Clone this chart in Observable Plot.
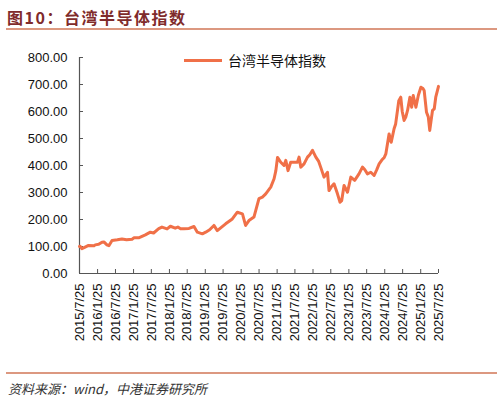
<!DOCTYPE html>
<html><head><meta charset="utf-8">
<script src="https://cdn.jsdelivr.net/npm/d3@7"></script>
<script src="https://cdn.jsdelivr.net/npm/@observablehq/plot@0.6"></script>
<style>
body{margin:0;background:#fff;}
#wrap{position:relative;width:503px;height:403px;overflow:hidden;font-family:"Liberation Sans",Arial,sans-serif;}
#title{position:absolute;left:7px;top:5px;font-family:"Noto Sans CJK SC","Liberation Sans",sans-serif;font-weight:bold;font-size:16px;letter-spacing:1.5px;color:#7f2b2b;white-space:nowrap;}
.rule{position:absolute;left:6px;width:491px;height:2px;background:#dc9880;}
#chart{position:absolute;left:0;top:34px;}
#legend{position:absolute;left:184px;top:50px;display:flex;align-items:center;font-family:"Noto Sans CJK SC",sans-serif;font-size:14px;color:#111;white-space:nowrap;}
#legend span.sw{display:inline-block;width:38px;height:3px;background:#F07048;margin-right:6px;}
#source{position:absolute;left:8px;top:379px;font-family:"Noto Sans CJK SC",sans-serif;font-style:italic;font-size:13px;color:#333;white-space:nowrap;}
</style></head>
<body>
<div id="wrap">
  <div id="title">图10：台湾半导体指数</div>
  <div class="rule" style="top:28px"></div>
  <div id="chart"></div>
  <div id="legend"><span class="sw"></span>台湾半导体指数</div>
  <div class="rule" style="top:372px"></div>
  <div id="source">资料来源：wind，中港证券研究所</div>
</div>
<script>
const seriesName = "台湾半导体指数";
const dates = [
"2015-07-25","2015-08-01","2015-08-18","2015-09-15","2015-10-25","2015-12-20","2016-01-01","2016-02-05","2016-03-10","2016-03-29",
"2016-04-29","2016-05-19","2016-06-20","2016-08-13","2016-09-29","2016-11-15","2017-01-10","2017-01-30","2017-03-18","2017-05-25",
"2017-07-15","2017-08-17","2017-10-08","2017-11-10","2018-01-01","2018-02-04","2018-03-25","2018-04-21","2018-05-18","2018-06-21",
"2018-08-12","2018-10-02","2018-11-05","2018-12-26","2019-01-29","2019-03-10","2019-04-23","2019-05-27","2019-07-10","2019-08-20",
"2019-10-27","2019-12-17","2020-02-07","2020-03-10","2020-04-13","2020-06-03","2020-07-24","2020-08-28","2020-10-01","2020-11-21",
"2020-12-25","2021-01-12","2021-01-29","2021-03-03","2021-04-05","2021-04-23","2021-05-16","2021-06-12","2021-07-16","2021-08-20",
"2021-09-05","2021-09-23","2021-10-26","2021-11-30","2021-12-23","2022-01-20","2022-02-23","2022-03-24","2022-04-13","2022-05-17",
"2022-06-21","2022-07-07","2022-07-29","2022-08-27","2022-10-01","2022-10-27","2022-11-13","2022-12-07","2023-01-11","2023-02-14",
"2023-03-25","2023-05-08","2023-06-12","2023-07-05","2023-08-02","2023-09-05","2023-10-09","2023-11-05","2023-11-29","2023-12-26",
"2024-01-20","2024-02-05","2024-03-09","2024-03-31","2024-04-29","2024-05-15","2024-06-16","2024-07-06","2024-07-21","2024-08-09",
"2024-08-26","2024-09-13","2024-10-07","2024-10-25","2024-11-10","2024-12-07","2025-01-01","2025-01-27","2025-02-17","2025-03-01",
"2025-03-25","2025-04-12","2025-04-27","2025-05-12","2025-05-25","2025-06-12","2025-06-27","2025-07-25"
];
const values = [
100,101,92,97,104,103,106,108,116,117,
106,103,122,125,128,125,127,132,132,143,
153,150,166,172,165,175,168,172,166,166,
167,174,153,147,153,162,178,159,172,184,
202,227,221,178,196,209,277,283,295,320,
351,381,430,412,400,419,381,412,412,412,
431,394,406,431,440,456,431,415,394,357,
375,307,320,332,295,264,270,326,301,357,
345,369,394,385,369,375,363,385,406,420,
430,443,517,486,536,554,640,653,600,567,
579,604,653,616,659,616,660,690,685,678,
597,580,530,570,604,610,653,693
];
const xTicks = [
"2015-07-25","2016-01-25","2016-07-25","2017-01-25","2017-07-25","2018-01-25","2018-07-25",
"2019-01-25","2019-07-25","2020-01-25","2020-07-25","2021-01-25","2021-07-25","2022-01-25",
"2022-07-25","2023-01-25","2023-07-25","2024-01-25","2024-07-25","2025-01-25","2025-07-25"
];
const yTicks = [0,100,200,300,400,500,600,700,800];

const data = dates.map((d,i)=>({date:new Date(d+"T00:00:00Z"), value:values[i]}));
const xTickDates = xTicks.map(d=>new Date(d+"T00:00:00Z"));
const fmtDate = d => `${d.getUTCFullYear()}/${d.getUTCMonth()+1}/${d.getUTCDate()}`;

const W = 503, H = 332, mL = 79, mR = 65, mT = 23, mB = 93;
const plotW = W - mL - mR, plotH = H - mT - mB;
const axisColor = "#555";

const chart = Plot.plot({
  width: W, height: H,
  marginLeft: mL, marginRight: mR, marginTop: mT, marginBottom: mB,
  style: {fontFamily: "'Liberation Sans', Arial, sans-serif", fontSize: "13px", color: "#111", background: "white"},
  x: {type: "utc", domain: [xTickDates[0], xTickDates[xTickDates.length-1]]},
  y: {domain: [0, 800]},
  marks: [
    Plot.axisY(yTicks, {tickSize: 0, tickPadding: 12, tickFormat: d3.format(".2f"), label: null, fontSize: 13, fill: "#111"}),
    Plot.axisX(xTickDates, {tickSize: 0, tickPadding: 10, tickRotate: -90, tickFormat: fmtDate, label: null, fontSize: 13, fill: "#111"}),
    Plot.tickY(yTicks, {y: d => d, stroke: axisColor, strokeWidth: 1, insetRight: plotW - 4}),
    Plot.tickX(xTickDates, {x: d => d, stroke: axisColor, strokeWidth: 1, insetTop: plotH - 4}),
    Plot.ruleX([xTickDates[0]], {y1: 0, y2: 800, stroke: axisColor, strokeWidth: 1.2}),
    Plot.ruleY([0], {stroke: axisColor, strokeWidth: 1.2}),
    Plot.lineY(data, {x: "date", y: "value", stroke: "#F07048", strokeWidth: 3, strokeLinejoin: "round", title: () => seriesName})
  ]
});
document.getElementById("chart").appendChild(chart);
</script>
</body></html>
